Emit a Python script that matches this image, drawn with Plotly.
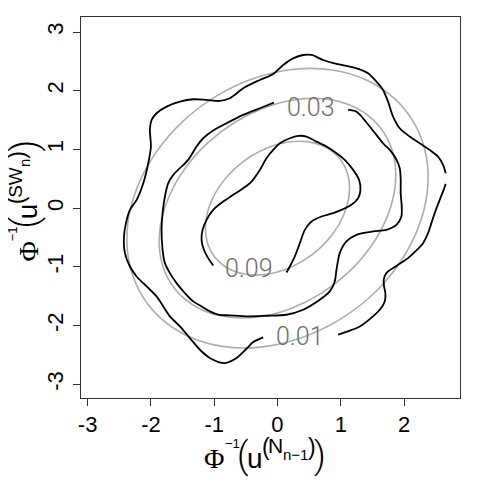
import plotly.graph_objects as go

# empirical density contours (black), read off the picture
# level 0.01 - upper/left part (ends at the grid edge on the right)
outer_a_x = [2.658, 2.616, 2.537, 2.405, 2.247, 2.089, 1.932, 1.826, 1.747, 1.668, 1.563, 1.432,
             1.300, 1.142, 0.932, 0.721, 0.537, 0.405, 0.247, 0.089, -0.068, -0.279, -0.542,
             -0.753, -0.911, -1.121, -1.332, -1.542, -1.753, -1.911, -1.989, -2.016, -2.000,
             -2.042, -2.121, -2.226, -2.332, -2.395, -2.426, -2.411, -2.332, -2.226, -2.068,
             -1.911, -1.805, -1.700, -1.542, -1.384, -1.226, -1.042, -0.832, -0.647, -0.489,
             -0.384, -0.226]
outer_a_y = [0.596, 0.737, 0.879, 0.993, 1.106, 1.220, 1.361, 1.560, 1.815, 2.014, 2.155, 2.297,
             2.365, 2.411, 2.456, 2.524, 2.609, 2.609, 2.552, 2.439, 2.286, 2.184, 2.042,
             1.872, 1.826, 1.843, 1.855, 1.815, 1.730, 1.617, 1.503, 1.333, 1.049,
             0.766, 0.425, 0.142, -0.028, -0.255, -0.482, -0.766, -0.993, -1.163, -1.333,
             -1.503, -1.673, -1.843, -2.014, -2.212, -2.411, -2.569, -2.638, -2.552, -2.394,
             -2.280, -2.201]
# level 0.01 - lower/right part
outer_b_x = [0.958, 1.142, 1.300, 1.458, 1.616, 1.695, 1.705, 1.684, 1.679, 1.721, 1.800, 1.932,
             2.063, 2.195, 2.300, 2.379, 2.432, 2.484, 2.563, 2.626, 2.658]
outer_b_y = [-2.155, -2.087, -2.014, -1.889, -1.730, -1.588, -1.446, -1.333, -1.219, -1.106,
             -1.038, -0.947, -0.851, -0.720, -0.596, -0.425, -0.255, -0.085, 0.142, 0.312, 0.414]
# level 0.03
mid_x = [1.116, 1.247, 1.353, 1.458, 1.563, 1.668, 1.774, 1.868, 1.932, 1.947, 1.947, 1.963,
         1.958, 1.879, 1.721, 1.511, 1.247, 1.089, 0.984, 0.932, 0.905, 0.826, 0.668, 0.405,
         0.142, -0.174, -0.489, -0.753, -0.937, -1.068, -1.200, -1.332, -1.463, -1.595, -1.700,
         -1.779, -1.816, -1.832, -1.816, -1.779, -1.726, -1.647, -1.542, -1.411, -1.279, -1.174,
         -1.016, -0.805, -0.542, -0.279, -0.058]
mid_y = [1.673, 1.645, 1.531, 1.390, 1.248, 1.106, 0.993, 0.851, 0.681, 0.482, 0.255, 0.028,
         -0.142, -0.284, -0.369, -0.397, -0.454, -0.567, -0.766, -1.049, -1.248, -1.418, -1.560,
         -1.730, -1.815, -1.832, -1.843, -1.826, -1.815, -1.758, -1.673, -1.588, -1.446, -1.276,
         -1.106, -0.936, -0.709, -0.369, -0.085, 0.199, 0.425, 0.567, 0.681, 0.822, 1.049, 1.191,
         1.322, 1.446, 1.588, 1.702, 1.798]
# level 0.09
inner_x = [0.142, 0.195, 0.274, 0.353, 0.432, 0.537, 0.695, 0.879, 1.037, 1.168, 1.274, 1.311,
           1.289, 1.195, 1.063, 0.932, 0.774, 0.616, 0.458, 0.326, 0.195, 0.037, -0.068, -0.174,
           -0.279, -0.411, -0.542, -0.700, -0.858, -1.016, -1.121, -1.184, -1.200, -1.163,
           -1.095, -1.016]
inner_y = [-1.095, -0.993, -0.822, -0.596, -0.369, -0.227, -0.142, -0.085, -0.017, 0.057, 0.170,
           0.312, 0.482, 0.652, 0.822, 0.936, 1.049, 1.134, 1.220, 1.231, 1.191, 1.106, 0.993,
           0.851, 0.652, 0.454, 0.340, 0.227, 0.113, -0.028, -0.199, -0.369, -0.539, -0.709,
           -0.851, -0.976]

# theoretical contours (gray): unit-shape points (a flatter and a more tilted one)
# and the size of each level
wide_ux = [0.781, 0.916, 0.989, 0.994, 0.931, 0.805, 0.625, 0.401, 0.150, -0.111, -0.364,
           -0.593, -0.781, -0.916, -0.989, -0.994, -0.931, -0.805, -0.625, -0.401, -0.150,
           0.111, 0.364, 0.593, 0.781]
wide_uy = [0.781, 0.593, 0.364, 0.111, -0.150, -0.401, -0.625, -0.805, -0.931, -0.994,
           -0.989, -0.916, -0.781, -0.593, -0.364, -0.111, 0.150, 0.401, 0.625, 0.805,
           0.931, 0.994, 0.989, 0.916, 0.781]
tilt_ux = [0.806, 0.932, 0.994, 0.988, 0.915, 0.780, 0.592, 0.363, 0.109, -0.152, -0.402,
           -0.626, -0.806, -0.932, -0.994, -0.988, -0.915, -0.780, -0.592, -0.363, -0.109,
           0.152, 0.402, 0.626, 0.806]
tilt_uy = [0.806, 0.626, 0.402, 0.152, -0.109, -0.363, -0.592, -0.780, -0.915, -0.988,
           -0.994, -0.932, -0.806, -0.626, -0.402, -0.152, 0.109, 0.363, 0.592, 0.780,
           0.915, 0.988, 0.994, 0.932, 0.806]
ellipse_sizes = [2.38, 1.87, 1.14]

label_text = ["0.01", "0.03", "0.09"]
label_x = [0.348, 0.523, -0.450]
label_y = [-2.184, 1.723, -1.020]

x_ticks = [-3, -2, -1, 0, 1, 2]
y_ticks = [-3, -2, -1, 0, 1, 2, 3]

# page is shifted by the 8px body margin, so the figure is 472 wide
PLOT_L, PLOT_R, PLOT_T, PLOT_B = 81, 460, 17, 398
SANS, SERIF, THIN = "Liberation Sans", "Liberation Serif", "Roboto"
ASC = {SANS: 0.905, SERIF: 0.891, THIN: 0.928}
DESC = {SANS: 0.212, SERIF: 0.216, THIN: 0.244}


def paper_x(px):
    return (px - PLOT_L) / (PLOT_R - PLOT_L)


def paper_y(py):
    return (PLOT_B - py) / (PLOT_B - PLOT_T)


fig = go.Figure()

shapes = [(wide_ux, wide_uy), (tilt_ux, tilt_uy), (tilt_ux, tilt_uy)]
for s, (ux, uy) in zip(ellipse_sizes, shapes):
    fig.add_trace(go.Scatter(
        x=[s * u for u in ux],
        y=[s * u for u in uy],
        mode="lines",
        line=dict(color="#adadad", width=1.6, shape="spline", smoothing=1.0),
        hoverinfo="skip",
        showlegend=False,
    ))

for xs, ys in [(outer_a_x, outer_a_y), (outer_b_x, outer_b_y), (mid_x, mid_y), (inner_x, inner_y)]:
    fig.add_trace(go.Scatter(
        x=xs, y=ys,
        mode="lines",
        line=dict(color="black", width=1.8, shape="spline", smoothing=0.8),
        hoverinfo="skip",
        showlegend=False,
    ))

for t, lx, ly in zip(label_text, label_x, label_y):
    fig.add_annotation(
        x=lx, y=ly, text=t, showarrow=False,
        font=dict(family=THIN, size=25, weight=300, color="#6e6e6e"),
        xanchor="center", yanchor="middle",
    )

# axis titles built piece by piece: text, font, size, offset along text, raise above baseline
x_title = [("Φ", SERIF, 28, 0, 0), ("−1", SANS, 13, 21, 20), ("(", THIN, 36, 33, 0),
           ("u", SANS, 28, 43, 0), ("(", SANS, 23, 58, 13), ("N", SANS, 21, 64, 15),
           ("n−1", SANS, 15, 78.5, 8), (")", SANS, 23, 103.5, 13), (")", THIN, 36, 110, 0)]
y_title = [("Φ", SERIF, 28, 0, 0), ("−1", SANS, 13, 21, 20), ("(", THIN, 36, 33, 0),
           ("u", SANS, 28, 43, 0), ("(", SANS, 23, 58, 13), ("SW", SANS, 19, 64, 15),
           ("n", SANS, 15, 95, 8), (")", SANS, 23, 103.5, 13), (")", THIN, 36, 110, 0)]

for text, fam, size, off, rise in x_title:
    fig.add_annotation(
        xref="paper", yref="paper", showarrow=False, borderpad=0, borderwidth=0,
        x=paper_x(204 + off), y=paper_y(468 - rise + DESC[fam] * size),
        xanchor="left", yanchor="bottom", text=text,
        font=dict(family=fam, size=size, color="black", weight=300 if fam == THIN else 400),
    )

for text, fam, size, off, rise in y_title:
    fig.add_annotation(
        xref="paper", yref="paper", showarrow=False, borderpad=0, borderwidth=0,
        x=paper_x(37 - rise - ASC[fam] * size), y=paper_y(262 - off),
        xanchor="left", yanchor="bottom", textangle=-90, text=text,
        font=dict(family=fam, size=size, color="black", weight=300 if fam == THIN else 400),
    )

fig.update_layout(
    width=472, height=472,
    margin=dict(l=PLOT_L - 8, r=480 - PLOT_R, t=PLOT_T - 8, b=480 - PLOT_B),
    plot_bgcolor="white", paper_bgcolor="white",
    font=dict(family=SANS, size=22, color="black"),
    xaxis=dict(
        range=[-3.105, 2.884], tickvals=x_ticks, ticktext=[str(v) for v in x_ticks],
        ticks="outside", ticklen=7, tickcolor="#333", showgrid=False, zeroline=False,
        showline=True, linecolor="#333", linewidth=1, mirror=True,
        ticklabelstandoff=0,
    ),
    yaxis=dict(
        range=[-3.233, 3.256], tickvals=y_ticks, ticktext=[str(v) for v in y_ticks],
        ticks="outside", ticklen=7, tickcolor="#333", showgrid=False, zeroline=False,
        showline=True, linecolor="#333", linewidth=1, mirror=True,
        tickangle=-90, ticklabelstandoff=1,
    ),
)

fig.write_html("out.html")
